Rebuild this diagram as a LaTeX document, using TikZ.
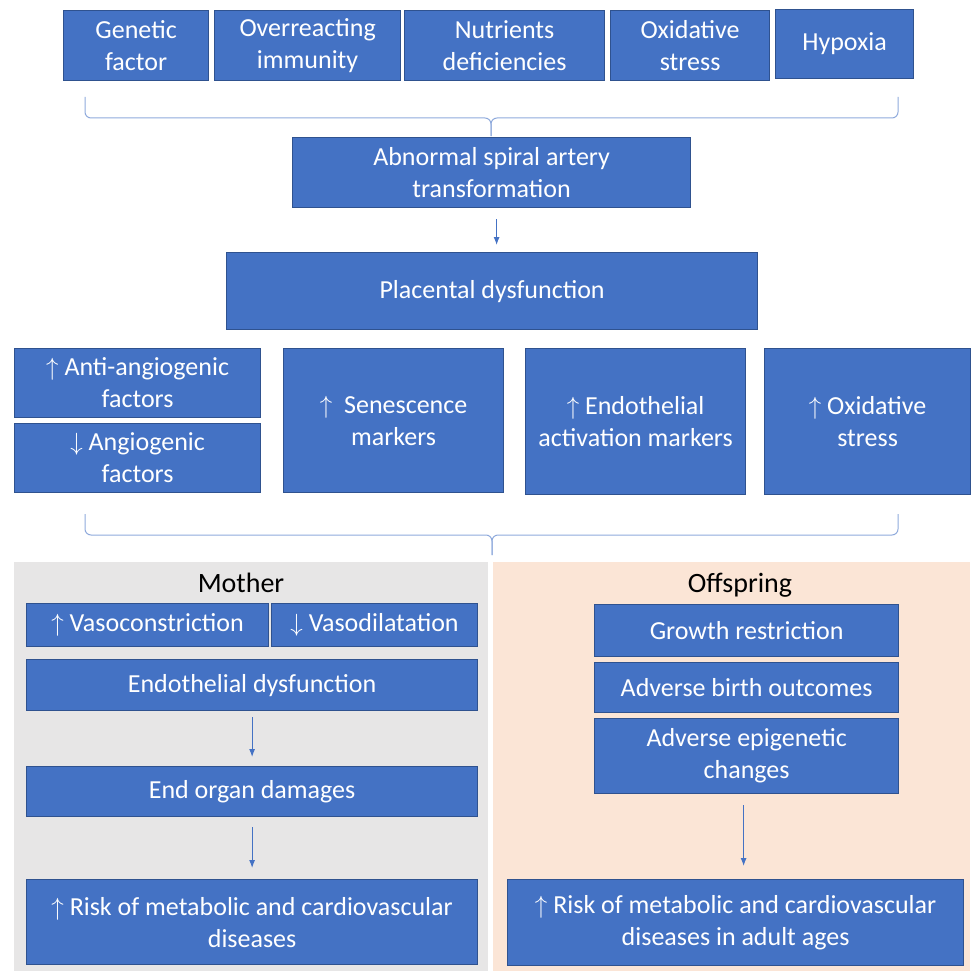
\documentclass[tikz,border=0pt]{standalone}
\usepackage{fontspec}
\setmainfont{Carlito}
\usetikzlibrary{positioning,arrows.meta}
\definecolor{boxblue}{HTML}{4472C4}
\definecolor{boxedge}{HTML}{2F528F}
\definecolor{bracecol}{HTML}{8FAADC}
\definecolor{mothergray}{HTML}{E7E6E6}
\definecolor{offpeach}{HTML}{FBE5D6}

\begin{document}
\begin{tikzpicture}[x=1pt,y=-1pt,>={Latex[length=8pt,width=6pt]},
	box/.style={draw=boxedge,fill=boxblue,line width=1.2pt,text=white,align=center,
		anchor=north west,inner sep=0pt,font=\fontsize{26}{32}\selectfont},
	flow/.style={->,draw=boxblue,line width=1pt},
	brace/.style={draw=bracecol,line width=1pt,rounded corners=6pt},
	title/.style={anchor=base,font=\fontsize{28}{34}\selectfont}]

		\useasboundingbox (0,0) rectangle (970,971);

		% the causes
		\node[box,minimum width=145pt,minimum height=70pt] (gen) at (63,10) {Genetic\\factor};
		\node[box,minimum width=186pt,minimum height=70pt] (imm) at (214,10) {Overreacting\\immunity};
		\node[box,minimum width=200pt,minimum height=70pt] (nut) at (404,10) {Nutrients\\deficiencies};
		\node[box,minimum width=159pt,minimum height=70pt] (oxa) at (610,10) {Oxidative\\stress};
		\node[box,minimum width=138pt,minimum height=69pt] (hyp) at (775,9) {Hypoxia};

		% brace over the causes
		\draw[brace] (85,97) |- (491,118) -- (491,136);
		\draw[brace] (898,97) |- (491,118) -- (491,136);

		% the placenta
		\node[box,minimum width=398pt,minimum height=70pt] (abn) at (292,137) {Abnormal spiral artery\\transformation};
		\node[box,minimum width=531pt,minimum height=77pt] (plac) at (226,252) {Placental dysfunction};
		\draw[flow,shorten <=11pt,shorten >=7pt] ([xshift=5pt]abn.south) -- ([xshift=5pt]abn.south |- plac.north);

		% the markers
		\node[box,minimum width=246pt,minimum height=69pt] (anti) at (14,348) {$\uparrow$ Anti-angiogenic\\factors};
		\node[box,minimum width=246pt,minimum height=69pt] (angio) at (14,423) {$\downarrow$ Angiogenic\\factors};
		\node[box,minimum width=220pt,minimum height=144pt] (sen) at (283,348) {$\uparrow$\ \ Senescence\\markers};
		\node[box,minimum width=220pt,minimum height=146pt] (endo) at (525,348) {$\uparrow$ Endothelial\\activation markers};
		\node[box,minimum width=206pt,minimum height=146pt] (oxb) at (764,348) {$\uparrow$ Oxidative\\stress};

		% brace over the markers
		\draw[brace] (85,514) |- (492,535) -- (492,555);
		\draw[brace] (898,514) |- (492,535) -- (492,555);

		% the two panels
		\fill[mothergray] (14,562) rectangle (488,971);
		\fill[offpeach] (493,562) rectangle (970,971);
		\node[title] (mother) at (241,592) {Mother};
		\node[title] (offspring) at (740,592) {Offspring};

		% mother side
		\node[box,minimum width=242pt,minimum height=43pt] (vcon) at (26,603) {$\uparrow$\ Vasoconstriction};
		\node[box,minimum width=206pt,minimum height=43pt] (vdil) at (271,603) {$\downarrow$\ Vasodilatation};
		\node[box,minimum width=451pt,minimum height=51pt] (edys) at (26,659) {Endothelial dysfunction};
		\node[box,minimum width=451pt,minimum height=50pt] (organ) at (26,766) {End organ damages};
		\node[box,minimum width=451pt,minimum height=85pt] (riskm) at (26,879) {$\uparrow$ Risk of metabolic and cardiovascular\\diseases};
		\draw[flow,shorten <=6pt,shorten >=9pt] (edys) -- (organ);
		\draw[flow,shorten <=10pt,shorten >=11pt] (organ) -- (riskm);

		% offspring side
		\node[box,minimum width=304pt,minimum height=52pt] (growth) at (594,604) {Growth restriction};
		\node[box,minimum width=304pt,minimum height=50pt] (birth) at (594,662) {Adverse birth outcomes};
		\node[box,minimum width=304pt,minimum height=75pt] (epi) at (594,718) {Adverse epigenetic\\changes};
		\node[box,minimum width=456pt,minimum height=86pt] (riska) at (507,879) {$\uparrow$ Risk of metabolic and cardiovascular\\diseases in adult ages};
		\draw[flow,shorten <=11pt,shorten >=13pt] ([xshift=-3pt]epi.south) -- ([xshift=-3pt]epi.south |- riska.north);

	\end{tikzpicture}
\end{document}
